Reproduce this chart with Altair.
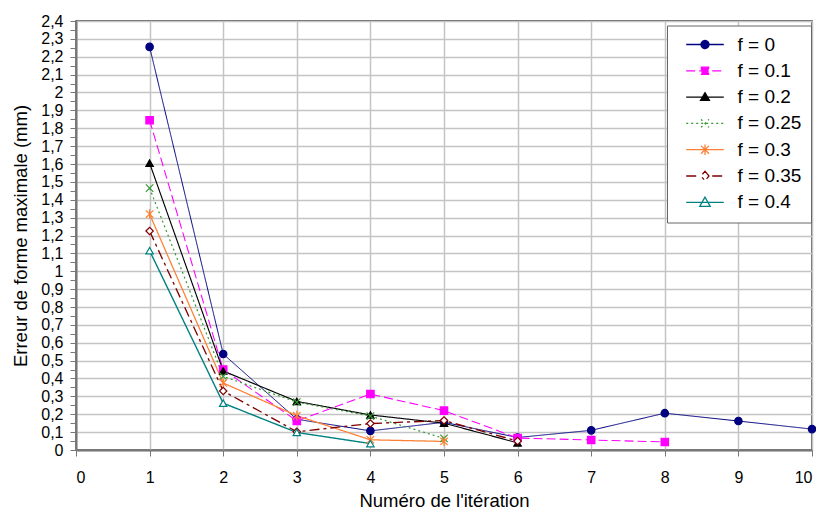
import altair as alt
import pandas as pd

# ---- data ----
series_labels = ["f = 0", "f = 0.1", "f = 0.2", "f = 0.25", "f = 0.3", "f = 0.35", "f = 0.4"]
f_0 = [2.255, 0.537, 0.172, 0.107, 0.155, 0.070, 0.110, 0.206, 0.162, 0.117]
f_01 = [1.845, 0.450, 0.163, 0.313, 0.220, 0.067, 0.056, 0.045]
f_02 = [1.605, 0.442, 0.272, 0.196, 0.150, 0.040]
f_025 = [1.465, 0.412, 0.268, 0.190, 0.065]
f_03 = [1.320, 0.375, 0.192, 0.057, 0.048]
f_035 = [1.225, 0.330, 0.102, 0.148, 0.165, 0.050]
f_04 = [1.115, 0.262, 0.098, 0.036]
all_series = [f_0, f_01, f_02, f_025, f_03, f_035, f_04]

x_ticks = [0, 1, 2, 3, 4, 5, 6, 7, 8, 9, 10]
y_ticks = [round(i * 0.05, 2) for i in range(49)]

# ---- styles ----
colors = ["#000080", "#ff00ff", "#000000", "#339933", "#ff8033", "#800000", "#008080"]
fills = ["#000080", "#ff00ff", "#000000", "transparent", "transparent", "white", "white"]
dashes = [[1, 0], [9, 4], [1, 0], [2, 3], [1, 0], [10, 4, 3, 4], [1, 0]]
widths = [1.0, 1.4, 1.0, 1.4, 1.2, 2.5, 2.2]
shapes = [
    "circle",
    "square",
    "triangle-up",
    "M-1,-1L1,1M-1,1L1,-1",
    "M-1,-1L1,1M-1,1L1,-1M0,-1.3L0,1.3",
    "diamond",
    "triangle-up",
]
LINE = "M-4.7,0L4.7,0"
legend_shapes = [
    LINE + "M-1,0A1,1,0,1,0,1,0A1,1,0,1,0,-1,0Z",
    LINE + "M-0.9,-0.9L0.9,-0.9L0.9,0.9L-0.9,0.9Z",
    LINE + "M0,-1.1L1.1,0.8L-1.1,0.8Z",
    LINE + "M-1,-1L1,1M-1,1L1,-1",
    LINE + "M-1,-1L1,1M-1,1L1,-1M0,-1.3L0,1.3",
    "M-4.7,0L-1.8,0M1.8,0L4.7,0M0,-1.2L1,0L0,1.2L-1,0Z",
    LINE + "M0,-1.3L1.3,1L-1.3,1Z",
]

rows = []
for label, vals in zip(series_labels, all_series):
    for i, v in enumerate(vals):
        rows.append({"series": label, "iteration": i + 1, "value": v})
df = pd.DataFrame(rows)

FONT = "Liberation Sans"

x_enc = alt.X(
    "iteration:Q",
    scale=alt.Scale(domain=[0, 10], nice=False),
    axis=alt.Axis(values=x_ticks, title="Numéro de l'itération", format="d",
                  labelPadding=13, titlePadding=6, tickSize=6),
)
y_enc = alt.Y(
    "value:Q",
    scale=alt.Scale(domain=[0, 2.4], nice=False),
    axis=alt.Axis(
        values=y_ticks,
        title="Erreur de forme maximale (mm)",
        labelExpr="round(datum.value*100) % 10 == 0 ? replace(format(datum.value, '.1~f'), '.', ',') : ''",
        gridOpacity=alt.condition("round(datum.value*100) % 10 == 0", alt.value(1), alt.value(0)),
        tickSize=6, labelPadding=7, titlePadding=10,
    ),
)

lines = alt.Chart(df).mark_line(clip=True).encode(
    x=x_enc, y=y_enc,
    color=alt.Color("series:N", scale=alt.Scale(domain=series_labels, range=colors), legend=None),
    strokeDash=alt.StrokeDash("series:N", scale=alt.Scale(domain=series_labels, range=dashes), legend=None),
    strokeWidth=alt.StrokeWidth("series:O", scale=alt.Scale(domain=series_labels, range=widths), legend=None),
)

points = alt.Chart(df).mark_point(filled=True, size=55, strokeWidth=1.2, opacity=1).encode(
    x=x_enc, y=y_enc,
    shape=alt.Shape("series:N", scale=alt.Scale(domain=series_labels, range=shapes), legend=None),
    fill=alt.Fill("series:N", scale=alt.Scale(domain=series_labels, range=fills), legend=None),
    stroke=alt.Stroke("series:N", scale=alt.Scale(domain=series_labels, range=colors), legend=None),
)

leg = alt.Legend(
    orient="none", legendX=591, legendY=4.5,
    labelFont=FONT, labelFontSize=19, labelColor="black",
    symbolSize=64, symbolStrokeWidth=1.3, symbolOffset=19, labelOffset=23,
    padding=9.5, rowPadding=6.3, fillColor="white", strokeColor="#666666",
)

legend_layer = alt.Chart(df).transform_filter("false").mark_point(
    filled=True, size=64, strokeWidth=1.3, opacity=1
).encode(
    shape=alt.Shape("series:N", title=None, scale=alt.Scale(domain=series_labels, range=legend_shapes), legend=leg),
    fill=alt.Fill("series:N", title=None, scale=alt.Scale(domain=series_labels, range=fills), legend=leg),
    stroke=alt.Stroke("series:N", title=None, scale=alt.Scale(domain=series_labels, range=colors), legend=leg),
    strokeDash=alt.StrokeDash("series:N", title=None, scale=alt.Scale(domain=series_labels, range=dashes), legend=leg),
)

chart = alt.layer(lines, points, legend_layer).resolve_scale(
    shape="independent", fill="independent", stroke="independent", strokeDash="independent"
).properties(
    width=736, height=429,
    autosize=alt.AutoSizeParams(type="none"),
    padding={"left": 68, "top": 13, "right": 4, "bottom": 63},
    background="white",
).configure_view(
    stroke="#333333", strokeWidth=1.5
).configure_axis(
    labelFont=FONT, labelFontSize=16, labelColor="black",
    titleFont=FONT, titleFontSize=18.5, titleFontWeight="normal", titleColor="black",
    gridColor="#c4c4c4", gridWidth=1.5,
    domainColor="#777777", domainWidth=2, tickColor="#777777", tickWidth=1,
)

chart.save("out.html", embed_options={"renderer": "svg", "actions": False})
